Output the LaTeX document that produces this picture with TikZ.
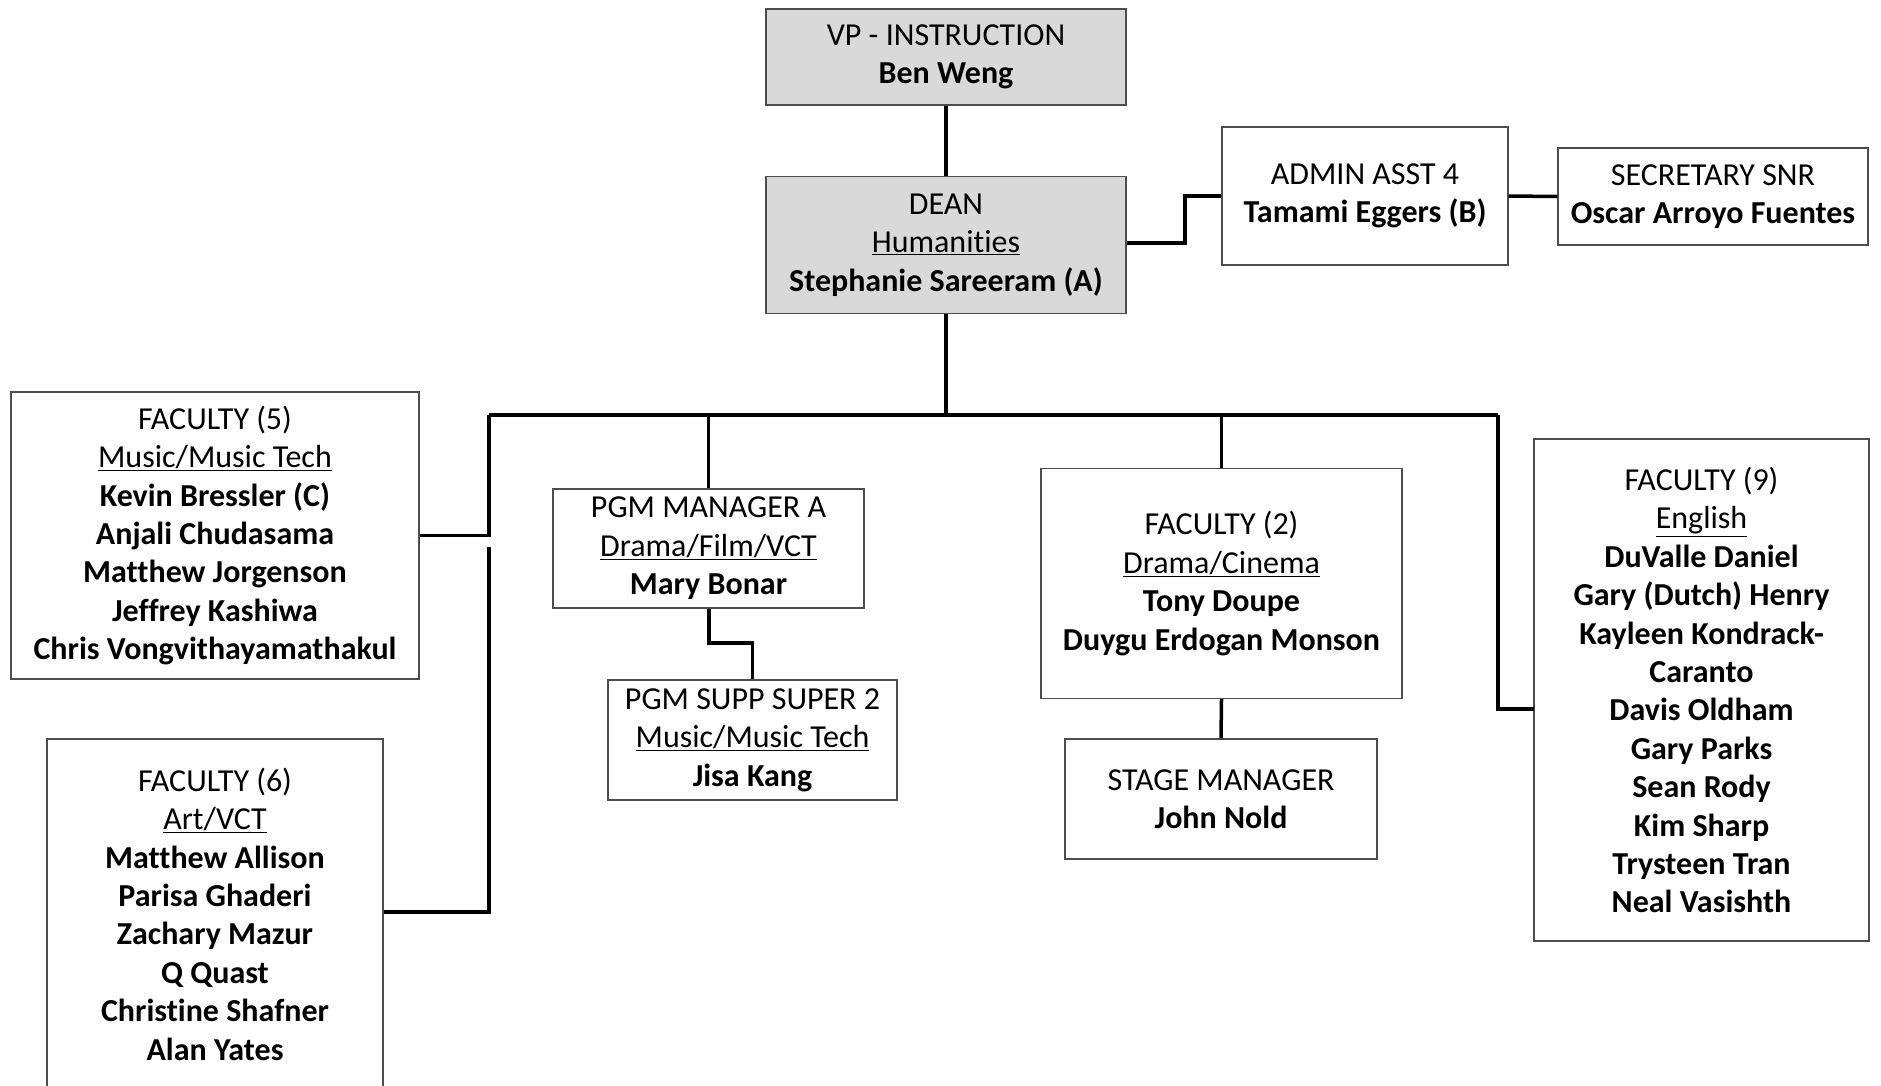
\documentclass[tikz,border=0pt]{standalone}
\usepackage{fontspec}
\setmainfont[RawFeature={-liga}]{Carlito}
\definecolor{boxgray}{HTML}{D9D9D9}
\definecolor{edgegray}{HTML}{4D4D4D}
\tikzset{
  orgbox/.style={draw=edgegray, line width=1.3pt, align=center, inner sep=0pt,
    font=\fontsize{32}{38.4}\selectfont, text=black},
  graybox/.style={orgbox, fill=boxgray},
  link/.style={draw=black, line width=3.5pt, line cap=butt, line join=miter}
}
\newcommand{\dept}[1]{\underline{#1}}
\begin{document}
\begin{tikzpicture}[x=1pt,y=-1pt]
\useasboundingbox (0,0) rectangle (1881,1085);
% boxes
\node[graybox, minimum width=360, minimum height=96] (vp) at (946,57)
  {VP - INSTRUCTION\\\textbf{Ben Weng}};
\node[graybox, minimum width=360, minimum height=137] (dean) at (946,245)
  {DEAN\\\dept{Humanities}\\\textbf{Stephanie Sareeram (A)}};
\node[orgbox, minimum width=286, minimum height=138] (admin) at (1365,196)
  {ADMIN ASST 4\\\textbf{Tamami Eggers (B)}};
\node[orgbox, minimum width=310, minimum height=97] (sec) at (1713,196.5)
  {SECRETARY SNR\\\textbf{Oscar Arroyo Fuentes}};
\node[orgbox, minimum width=408, minimum height=287] (f5) at (215,535.5)
  {FACULTY (5)\\\dept{Music/Music Tech}\\\textbf{Kevin Bressler (C)}\\\textbf{Anjali Chudasama}\\\textbf{Matthew Jorgenson}\\\textbf{Jeffrey Kashiwa}\\\textbf{Chris Vongvithayamathakul}};
\node[orgbox, minimum width=336, minimum height=350] (f6) at (215,914)
  {FACULTY (6)\\\dept{Art/VCT}\\\textbf{Matthew Allison}\\\textbf{Parisa Ghaderi}\\\textbf{Zachary Mazur}\\\textbf{Q Quast}\\\textbf{Christine Shafner}\\\textbf{Alan Yates}};
\node[orgbox, minimum width=311, minimum height=119] (pgm) at (708.5,548.5)
  {PGM MANAGER A\\\dept{Drama/Film/VCT}\\\textbf{Mary Bonar}};
\node[orgbox, minimum width=289, minimum height=120] (supp) at (752.5,740)
  {PGM SUPP SUPER 2\\\dept{Music/Music Tech}\\\textbf{Jisa Kang}};
\node[orgbox, minimum width=361, minimum height=230] (f2) at (1221.5,583.5)
  {FACULTY (2)\\\dept{Drama/Cinema}\\\textbf{Tony Doupe}\\\textbf{Duygu Erdogan Monson}};
\node[orgbox, minimum width=312, minimum height=120] (stage) at (1221,799)
  {STAGE MANAGER\\\textbf{John Nold}};
\node[orgbox, minimum width=335, minimum height=502] (f9) at (1701.5,690)
  {FACULTY (9)\\\dept{English}\\\textbf{DuValle Daniel}\\\textbf{Gary (Dutch) Henry}\\\textbf{Kayleen Kondrack-}\\\textbf{Caranto}\\\textbf{Davis Oldham}\\\textbf{Gary Parks}\\\textbf{Sean Rody}\\\textbf{Kim Sharp}\\\textbf{Trysteen Tran}\\\textbf{Neal Vasishth}};
% bus coordinates
\coordinate (busC) at (946,415);
\coordinate (busL) at (489,415);
\coordinate (busR) at (1498,415);
\coordinate (gapTop) at (489,547);
\coordinate (f9in) at (1534,709);
\coordinate (pgmBend) at (709,643);
% connectors
\draw[link] (vp.south) -- (dean.north);
\draw[link] (dean.east |- 0,243) -| (1185,196) -- (admin.west);
\draw[link] (admin.east) -- (sec.west);
\draw[link] (dean.south) -- (busC);
\draw[link] (busL) -- (busR);
\draw[link] (busL) |- (f5.east);
\draw[link] (gapTop) |- (f6.east |- 0,912);
\draw[link] (pgm.south -| 709,0) -- (pgmBend) -| (supp.north);
\draw[link] (busL -| pgm.north) -- (pgm.north);
\draw[link] (busC -| f2.north) -- (f2.north);
\draw[link] (f2.south) -- (stage.north);
\draw[link] (busR) |- (f9in);
\end{tikzpicture}
\end{document}
